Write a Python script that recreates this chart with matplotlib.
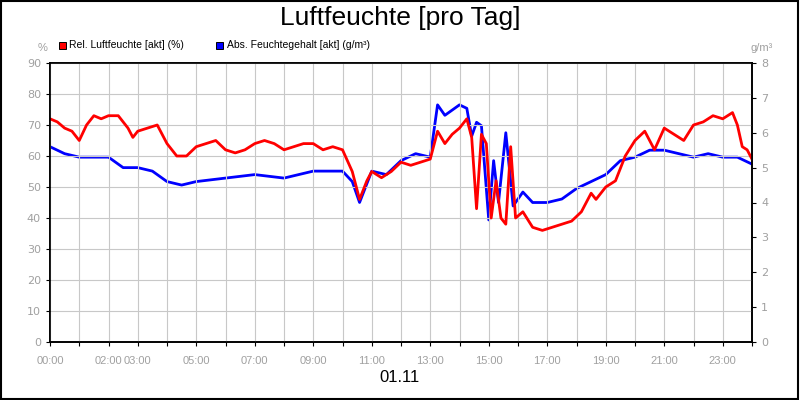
import matplotlib
matplotlib.use("Agg")
import matplotlib.pyplot as plt
from matplotlib.patches import Rectangle

rel_time = ["00:00","00:15","00:30","00:45","01:00","01:15","01:30","01:45","02:00","02:20","02:40","02:50","03:00","03:20","03:40","04:00","04:10","04:20","04:40","05:00","05:20","05:40","06:00","06:20","06:40","07:00","07:20","07:40","08:00","08:20","08:40","09:00","09:20","09:40","10:00","10:20","10:35","10:50","11:00","11:20","11:40","12:00","12:20","12:40","13:00","13:15","13:30","13:45","14:00","14:15","14:25","14:35","14:45","14:55","15:05","15:15","15:25","15:35","15:45","15:55","16:10","16:30","16:50","17:10","17:30","17:50","18:10","18:30","18:40","19:00","19:20","19:40","20:00","20:20","20:40","21:00","21:20","21:40","22:00","22:20","22:40","23:00","23:20","23:30","23:40","23:50","24:00"]
rel_vals = [72,71,69,68,65,70,73,72,73,73,69,66,68,69,70,64,62,60,60,63,64,65,62,61,62,64,65,64,62,63,64,64,62,63,62,55,46,52,55,53,55,58,57,58,59,68,64,67,69,72,66,43,67,64,40,52,40,38,63,40,42,37,36,37,38,39,42,48,46,50,52,60,65,68,62,69,67,65,70,71,73,72,74,70,63,62,59]

abs_time = ["00:00","00:30","01:00","02:00","02:30","03:00","03:30","04:00","04:30","05:00","06:00","07:00","08:00","09:00","10:00","10:20","10:35","11:00","11:30","12:00","12:30","13:00","13:15","13:30","14:00","14:15","14:25","14:35","14:45","15:00","15:10","15:20","15:35","15:50","16:10","16:30","17:00","17:30","18:00","18:30","19:00","19:30","20:00","20:30","21:00","22:00","22:30","23:00","23:30","24:00"]
abs_vals = [5.6,5.4,5.3,5.3,5.0,5.0,4.9,4.6,4.5,4.6,4.7,4.8,4.7,4.9,4.9,4.6,4.0,4.9,4.8,5.2,5.4,5.3,6.8,6.5,6.8,6.7,5.9,6.3,6.2,3.5,5.2,4.0,6.0,3.9,4.3,4.0,4.0,4.1,4.4,4.6,4.8,5.2,5.3,5.5,5.5,5.3,5.4,5.3,5.3,5.1]

tick_labels = ["00:00","02:00","03:00","05:00","07:00","09:00","11:00","13:00","15:00","17:00","19:00","21:00","23:00"]

def hrs(s):
    h, m = s.split(":")
    return int(h) + int(m) / 60

fig = plt.figure(figsize=(8, 4), dpi=100)
fig.patches.append(Rectangle((0.001, 0.002), 0.997, 0.996, transform=fig.transFigure,
                             fill=False, edgecolor="black", linewidth=1.5))
ax = fig.add_axes([50/800, 58/400, 702/800, 279/400])
ax2 = ax.twinx()

ax.set_xlim(0, 24)
ax.set_ylim(0, 90)
ax2.set_ylim(0, 8)
ax.set_xticks(range(25), minor=False)
ax.set_xticklabels([""] * 25)
for t in tick_labels:
    ax.text(hrs(t), -4.5, t, ha="center", va="top", fontsize=8, color="#a0a0a0",
            family="Liberation Sans")
ax.set_yticks(range(0, 91, 10))
ax2.set_yticks(range(0, 9))
ax.grid(True, color="#c8c8c8", linewidth=0.8)
ax.tick_params(axis="y", labelsize=8, labelcolor="#a0a0a0", length=3)
ax2.tick_params(axis="y", labelsize=8, labelcolor="#a0a0a0", length=3)
ax.tick_params(axis="x", length=3)
for a in (ax, ax2):
    for sp in a.spines.values():
        sp.set_linewidth(1.2)

ax.plot([hrs(t) for t in rel_time], rel_vals, color="#ff0000", lw=2)
ax2.plot([hrs(t) for t in abs_time], abs_vals, color="#0000ff", lw=2)
ax.set_zorder(ax2.get_zorder() + 1)
ax.patch.set_visible(False)

fig.text(0.5, 0.955, "Luftfeuchte [pro Tag]", ha="center", va="center", fontsize=19,
         family="Liberation Sans")
fig.text(0.5, 0.055, "01.11", ha="center", va="center", fontsize=12, family="Liberation Sans")
fig.text(43/800, 1 - 48/400, "%", ha="center", va="center", fontsize=8, color="#a0a0a0",
         family="Liberation Sans")
fig.text(762/800, 1 - 48/400, "g/m³", ha="center", va="center", fontsize=8, color="#a0a0a0",
         family="Liberation Sans")
fig.patches.append(Rectangle((59/800, 1 - 49/400), 7/800, 7/400, transform=fig.transFigure,
                             facecolor="#ff0000", edgecolor="black", lw=0.7))
fig.text(69/800, 1 - 45/400, "Rel. Luftfeuchte [akt] (%)", va="center", fontsize=7.5,
         family="Liberation Sans")
fig.patches.append(Rectangle((216/800, 1 - 49/400), 7/800, 7/400, transform=fig.transFigure,
                             facecolor="#0000ff", edgecolor="black", lw=0.7))
fig.text(227/800, 1 - 45/400, "Abs. Feuchtegehalt [akt] (g/m³)", va="center", fontsize=7.5,
         family="Liberation Sans")

fig.savefig("out.png", dpi=100)
